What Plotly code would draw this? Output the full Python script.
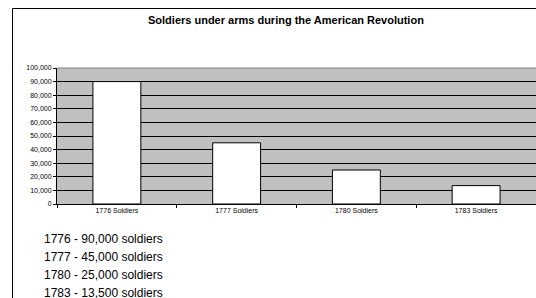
import plotly.graph_objects as go

categories = ["1776 Soldiers", "1777 Soldiers", "1780 Soldiers", "1783 Soldiers"]
soldiers = [90000, 45000, 25000, 13500]
notes = ["1776 - 90,000 soldiers", "1777 - 45,000 soldiers",
         "1780 - 25,000 soldiers", "1783 - 13,500 soldiers"]
title_text = "Soldiers under arms during the American Revolution"

W, H = 536, 298
L, R, T, B = 57, 0, 68, 94
PW, PH = W - L - R, H - T - B

def px(x):
    return (x - L) / PW

def py(y):
    return (H - B - y) / PH

fig = go.Figure(go.Bar(
    x=categories, y=soldiers, width=0.4,
    marker=dict(color="white", line=dict(color="black", width=1)),
))

annotations = [dict(text="<b>" + title_text + "</b>", x=px(286), y=py(20), xref="paper", yref="paper",
                    showarrow=False, xanchor="center", yanchor="middle",
                    font=dict(family="Liberation Sans, Arial", size=11, color="black"))]
for i, n in enumerate(notes):
    annotations.append(dict(text=n, x=px(42), y=py(239 + 18 * i), xref="paper", yref="paper",
                            showarrow=False, xanchor="left", yanchor="middle",
                            font=dict(family="Liberation Sans, Arial", size=12, color="black")))

shapes = [
    dict(type="line", xref="paper", yref="paper", x0=px(12.5), x1=px(540), y0=py(8.5), y1=py(8.5),
         line=dict(color="black", width=1)),
    dict(type="line", xref="paper", yref="paper", x0=px(12.5), x1=px(12.5), y0=py(8.5), y1=py(300),
         line=dict(color="black", width=1)),
    dict(type="line", xref="paper", yref="paper", x0=0, x1=1, y0=1, y1=1,
         line=dict(color="#808080", width=1), layer="above"),
]

fig.update_layout(
    width=W, height=H, margin=dict(l=L, r=R, t=T, b=B),
    paper_bgcolor="white", plot_bgcolor="#c0c0c0",
    showlegend=False, annotations=annotations, shapes=shapes,
    font=dict(family="Liberation Sans, Arial", size=7, color="black"),
    bargap=0.6,
)
fig.update_xaxes(type="category", showline=True, linecolor="black", linewidth=1,
                 ticks="outside", tickson="boundaries", ticklen=3, tickcolor="black",
                 showgrid=False, tickfont=dict(size=7))
fig.update_yaxes(range=[0, 100000], dtick=10000, tickformat=",", showline=True,
                 linecolor="black", linewidth=1, ticks="outside", ticklen=3, tickcolor="black",
                 showgrid=True, gridcolor="black", gridwidth=1, zeroline=False,
                 tickfont=dict(size=7))

fig.write_html("out.html", config={"displayModeBar": False},
               post_script="document.body.style.margin='0';document.body.style.overflow='hidden';")
